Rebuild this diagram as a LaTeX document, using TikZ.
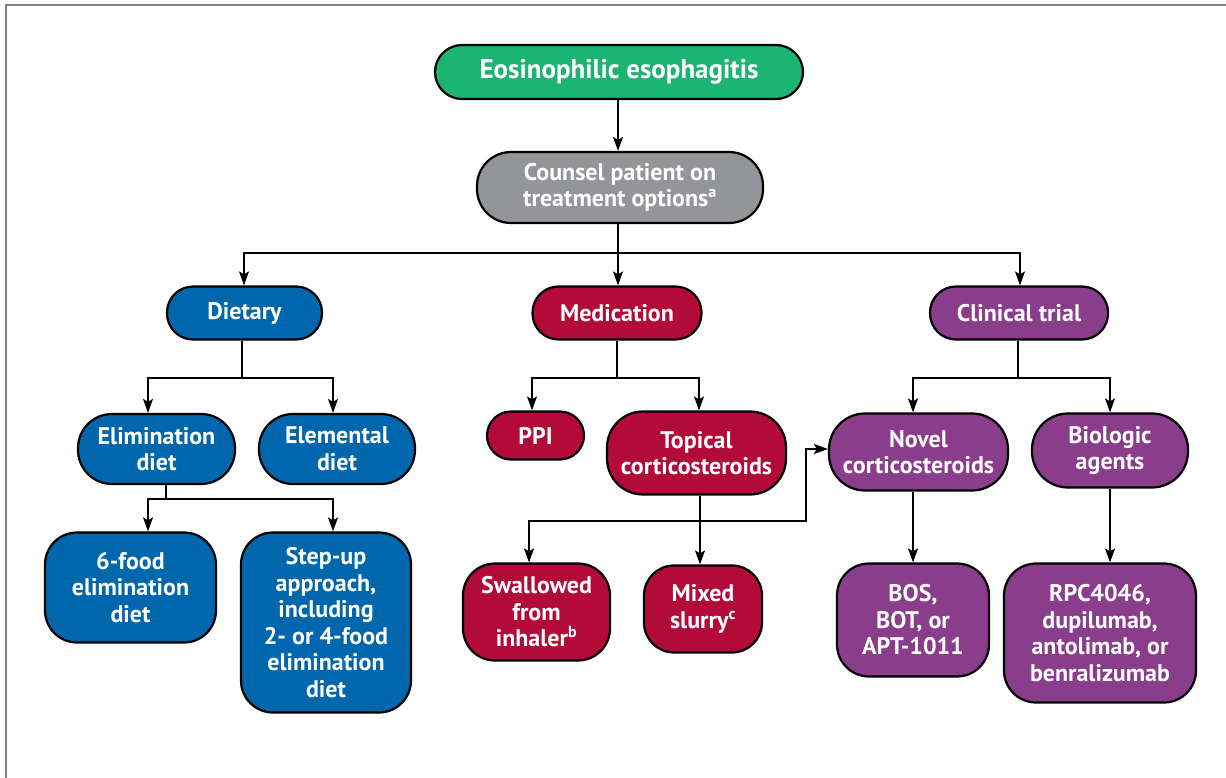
\documentclass[tikz,border=0pt]{standalone}
\usepackage{fontspec}
\setmainfont{PT Sans}
\usetikzlibrary{arrows.meta}
\definecolor{cgreen}{RGB}{27,180,115}
\definecolor{cgray}{RGB}{147,149,152}
\definecolor{cblue}{RGB}{0,103,172}
\definecolor{cred}{RGB}{178,11,56}
\definecolor{cpurp}{RGB}{137,61,139}
\definecolor{frame}{RGB}{128,128,128}
\newcommand{\sps}[1]{\textsuperscript{\fontsize{16pt}{16pt}\selectfont #1}}
\tikzset{
  box/.style={draw=black, line width=2.2pt, text=white, align=center, inner sep=0pt,
    font=\fontsize{24pt}{26.5pt}\selectfont\bfseries},
  arr/.style={line width=1.5pt, -{Stealth[length=14pt,width=10pt,inset=3pt]}},
  ln/.style={line width=1.5pt},
}
\begin{document}
\begin{tikzpicture}[x=1pt,y=-1pt]
\useasboundingbox (0,0) rectangle (1226,778);
\draw[frame, line width=2pt] (6,778) -- (6,5) -- (1226,5);
% nodes
\node[box, fill=cgreen, minimum width=368pt, minimum height=54pt, rounded corners=27pt,
  font=\fontsize{27pt}{30pt}\selectfont\bfseries] (eos) at (619,72) {Eosinophilic esophagitis};
\node[box, fill=cgray, minimum width=286pt, minimum height=71pt, rounded corners=34pt] (counsel) at (620,187.5) {Counsel patient on\\treatment options\sps{a}};
\node[box, fill=cblue, minimum width=155pt, minimum height=53pt, rounded corners=26pt] (diet) at (244.5,313) {Dietary};
\node[box, fill=cred, minimum width=169pt, minimum height=53pt, rounded corners=26pt] (med) at (617,313) {Medication};
\node[box, fill=cpurp, minimum width=178pt, minimum height=53pt, rounded corners=26pt] (clin) at (1019,313) {Clinical trial};
\node[box, fill=cblue, minimum width=157pt, minimum height=70pt, rounded corners=34pt] (elim) at (156.5,449) {Elimination\\diet};
\node[box, fill=cblue, minimum width=156pt, minimum height=70pt, rounded corners=34pt] (elem) at (337,449) {Elemental\\diet};
\node[box, fill=cred, minimum width=97pt, minimum height=48pt, rounded corners=24pt] (ppi) at (535.5,435.5) {PPI};
\node[box, fill=cred, minimum width=179pt, minimum height=83pt, rounded corners=36pt] (top) at (696.5,453) {Topical\\corticosteroids};
\node[box, fill=cpurp, minimum width=179pt, minimum height=77pt, rounded corners=36pt] (novel) at (918.5,452) {Novel\\corticosteroids};
\node[box, fill=cpurp, minimum width=156pt, minimum height=74pt, rounded corners=36pt] (bio) at (1110,450.5) {Biologic\\agents};
\node[box, fill=cblue, minimum width=171pt, minimum height=110pt, rounded corners=32pt] (six) at (130.5,587.5) {6-food\\elimination\\diet};
\node[box, fill=cblue, minimum width=170pt, minimum height=180pt, rounded corners=32pt] (step) at (326,622.5) {Step-up\\approach,\\including\\2- or 4-food\\elimination\\diet};
\node[box, fill=cred, minimum width=147pt, minimum height=97pt, rounded corners=32pt] (swal) at (536.5,612) {Swallowed\\from\\inhaler\sps{b}};
\node[box, fill=cred, minimum width=118pt, minimum height=87pt, rounded corners=30pt] (mix) at (703,609) {Mixed\\slurry\sps{c}};
\node[box, fill=cpurp, minimum width=152pt, minimum height=113pt, rounded corners=32pt] (bos) at (913,620) {BOS,\\BOT, or\\APT-1011};
\node[box, fill=cpurp, minimum width=192pt, minimum height=139pt, rounded corners=32pt] (rpc) at (1100,633) {RPC4046,\\dupilumab,\\antolimab, or\\benralizumab};
% connectors
\draw[arr] (618,0 |- eos.south) -- (618,0 |- counsel.north);
\draw[ln] (618,0 |- counsel.south) -- (618,253);
\draw[arr] (618,253) -| (244,0 |- diet.north);
\draw[arr] (618,253) -| (1020,0 |- clin.north);
\draw[arr] (618,253) -- (618,0 |- med.north);
\draw[arr] (242,0 |- diet.south) -- (242,378) -| (148,0 |- elim.north);
\draw[arr] (242,378) -| (333,0 |- elem.north);
\draw[arr] (166,0 |- elim.south) -- (166,499) -| (148,0 |- six.north);
\draw[arr] (166,499) -| (333,0 |- step.north);
\draw[arr] (617,0 |- med.south) -- (617,378) -| (532,0 |- ppi.north);
\draw[arr] (617,378) -| (699,0 |- top.north);
\draw[arr] (700,0 |- top.south) -- (700,0 |- mix.north);
\draw[arr] (700,521) -| (529,0 |- swal.north);
\draw[arr] (700,521) -| (806,449) -- (novel.west |- 806,449);
\draw[arr] (1018,0 |- clin.south) -- (1018,378) -| (913,0 |- novel.north);
\draw[arr] (1018,378) -| (1110,0 |- bio.north);
\draw[arr] (913,0 |- novel.south) -- (913,0 |- bos.north);
\draw[arr] (1110,0 |- bio.south) -- (1110,0 |- rpc.north);
\end{tikzpicture}
\end{document}
